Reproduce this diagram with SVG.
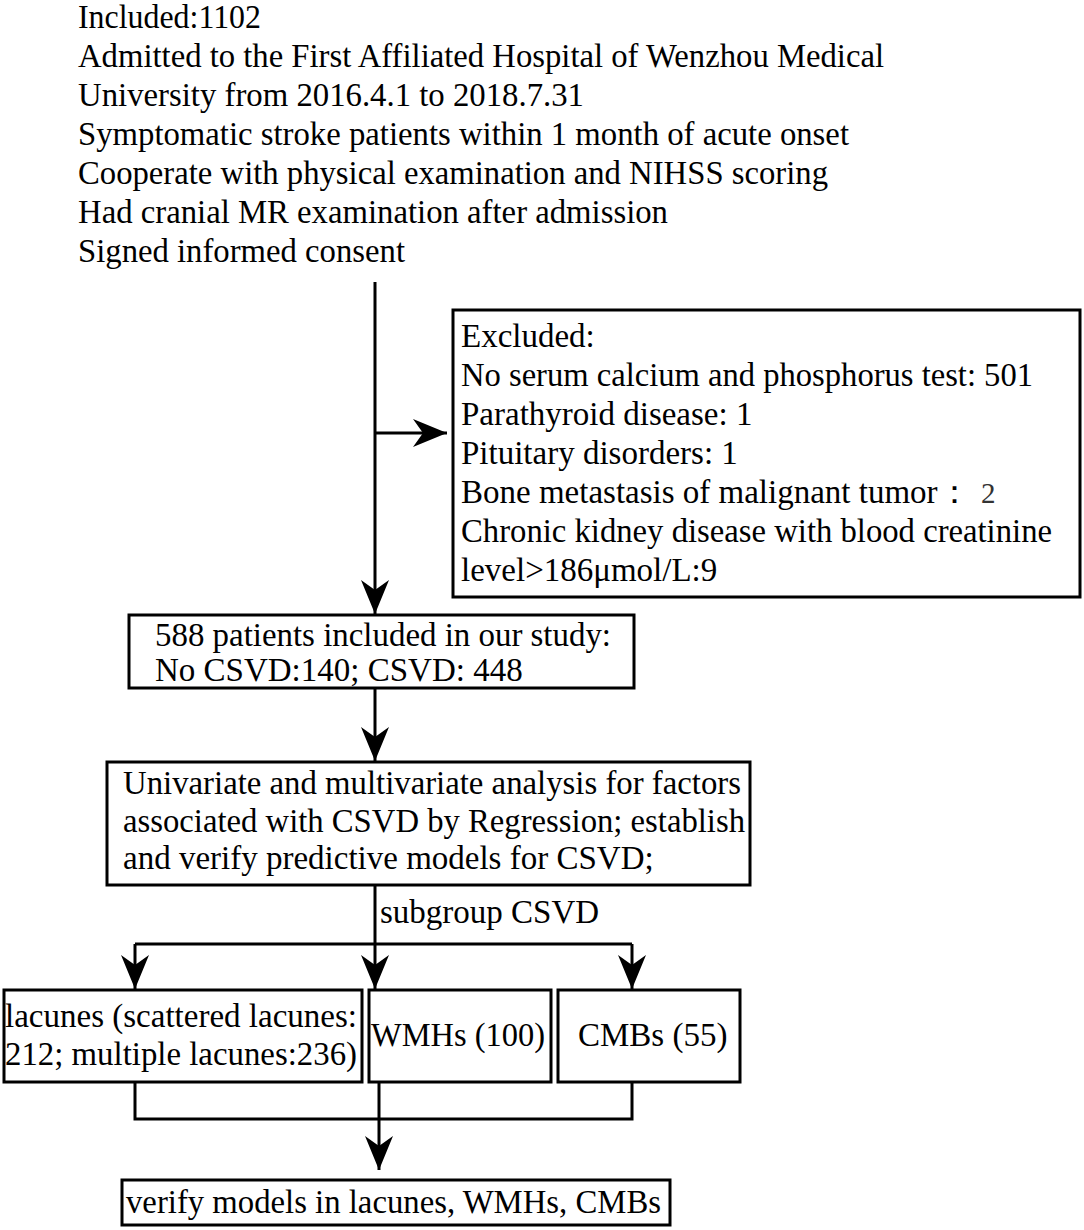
<svg xmlns="http://www.w3.org/2000/svg" width="1084" height="1230" viewBox="0 0 1084 1230">
<style>
text{font-family:"Liberation Serif","Times New Roman",serif;font-size:33px;fill:#000}
.box{fill:#fff;stroke:#000;stroke-width:3}
.ln{fill:none;stroke:#000;stroke-width:3}
</style>
<defs>
<marker id="ah" viewBox="0 0 34 28" refX="34" refY="14" markerWidth="34" markerHeight="28" markerUnits="userSpaceOnUse" orient="auto">
<path d="M0,0 L34,14 L0,28 L10,14 Z" fill="#000"/>
</marker>
</defs>
<rect width="1084" height="1230" fill="#fff"/>
<g id="included">
<text x="78" y="28" textLength="183" lengthAdjust="spacingAndGlyphs">Included:1102</text>
<text x="78" y="67" textLength="806" lengthAdjust="spacingAndGlyphs">Admitted to the First Affiliated Hospital of Wenzhou Medical</text>
<text x="78" y="106" textLength="506" lengthAdjust="spacingAndGlyphs">University from 2016.4.1 to 2018.7.31</text>
<text x="78" y="145" textLength="771" lengthAdjust="spacingAndGlyphs">Symptomatic stroke patients within 1 month of acute onset</text>
<text x="78" y="184" textLength="750" lengthAdjust="spacingAndGlyphs">Cooperate with physical examination and NIHSS scoring</text>
<text x="78" y="223" textLength="590" lengthAdjust="spacingAndGlyphs">Had cranial MR examination after admission</text>
<text x="78" y="262" textLength="327" lengthAdjust="spacingAndGlyphs">Signed informed consent</text>
</g>
<g id="connectors">
<path class="ln" d="M375,282 V614" marker-end="url(#ah)"/>
<path class="ln" d="M375,433 H447" marker-end="url(#ah)"/>
<path class="ln" d="M375,688 V761" marker-end="url(#ah)"/>
<path class="ln" d="M375,885 V989" marker-end="url(#ah)"/>
<path class="ln" d="M135,944 H632"/>
<path class="ln" d="M135,944 V989" marker-end="url(#ah)"/>
<path class="ln" d="M632,944 V989" marker-end="url(#ah)"/>
<path class="ln" d="M135,1082 V1119 H632 V1082"/>
<path class="ln" d="M379,1082 V1170" marker-end="url(#ah)"/>
<text x="380" y="923">subgroup CSVD</text>
</g>
<g id="excluded">
<rect class="box" x="453" y="310" width="627" height="287"/>
<text x="461" y="347">Excluded:</text>
<text x="461" y="386" textLength="572" lengthAdjust="spacingAndGlyphs">No serum calcium and phosphorus test: 501</text>
<text x="461" y="425">Parathyroid disease: 1</text>
<text x="461" y="464">Pituitary disorders: 1</text>
<text x="461" y="503">Bone metastasis of malignant tumor：<tspan x="981" font-size="29" fill="#333">2</tspan></text>
<text x="461" y="542" textLength="591" lengthAdjust="spacingAndGlyphs">Chronic kidney disease with blood creatinine</text>
<text x="461" y="581">level&gt;186μmol/L:9</text>
</g>
<g id="study">
<rect class="box" x="129" y="615" width="505" height="73"/>
<text x="155" y="646" textLength="456" lengthAdjust="spacingAndGlyphs">588 patients included in our study:</text>
<text x="155" y="681">No CSVD:140; CSVD: 448</text>
</g>
<g id="analysis">
<rect class="box" x="107" y="762" width="643" height="123"/>
<text x="123" y="794" textLength="618" lengthAdjust="spacingAndGlyphs">Univariate and multivariate analysis for factors</text>
<text x="123" y="832" textLength="622" lengthAdjust="spacingAndGlyphs">associated with CSVD by Regression; establish</text>
<text x="123" y="869">and verify predictive models for CSVD;</text>
</g>
<g id="lacunes">
<rect class="box" x="4" y="990" width="358" height="92"/>
<text x="5" y="1027" textLength="352" lengthAdjust="spacingAndGlyphs">lacunes (scattered lacunes:</text>
<text x="5" y="1065" textLength="352" lengthAdjust="spacingAndGlyphs">212; multiple lacunes:236)</text>
</g>
<g id="wmhs">
<rect class="box" x="369" y="990" width="182" height="92"/>
<text x="371" y="1046" textLength="174" lengthAdjust="spacingAndGlyphs">WMHs (100)</text>
</g>
<g id="cmbs">
<rect class="box" x="558" y="990" width="182" height="92"/>
<text x="578" y="1046">CMBs (55)</text>
</g>
<g id="verify">
<rect class="box" x="122" y="1180" width="548" height="45"/>
<text x="126" y="1213" textLength="535" lengthAdjust="spacingAndGlyphs">verify models in lacunes, WMHs, CMBs</text>
</g>
</svg>
